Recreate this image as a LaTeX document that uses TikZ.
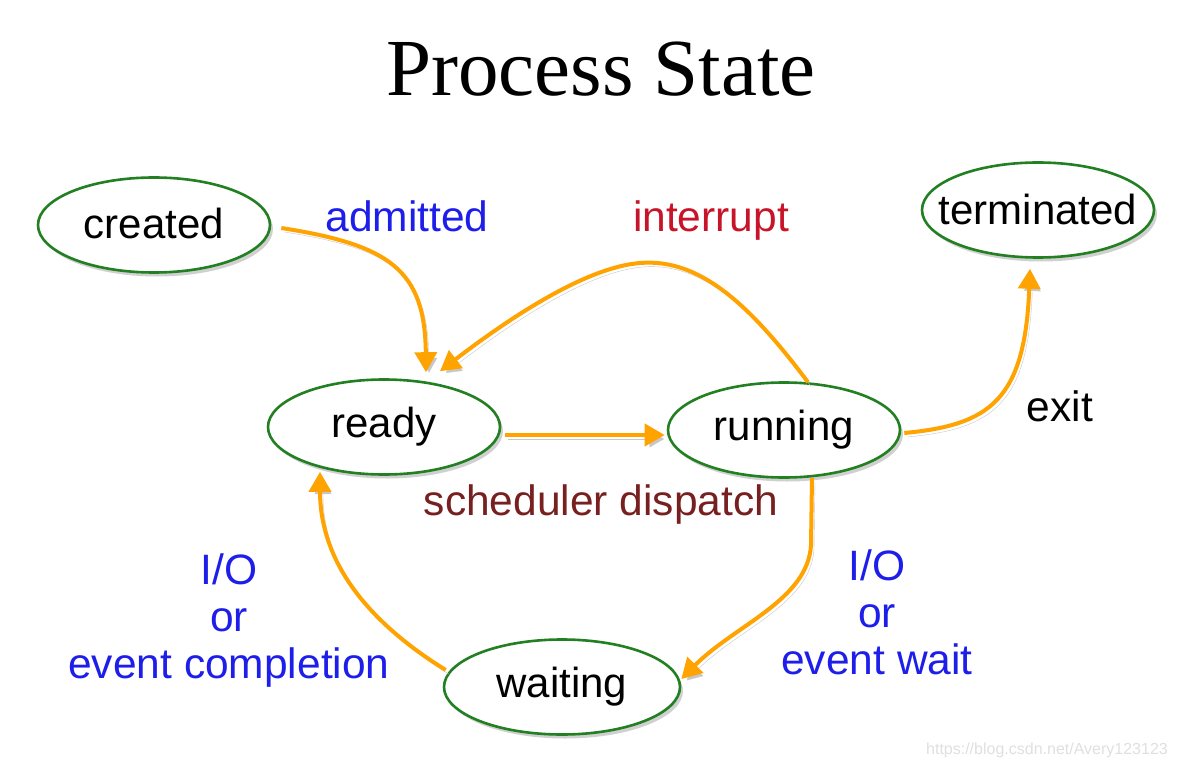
\documentclass[tikz,border=0pt]{standalone}
\usepackage{fontspec}
\setmainfont{Liberation Sans}
\newfontfamily\titlefont{Liberation Serif}
\usetikzlibrary{shapes.geometric,arrows.meta,shadows}
\definecolor{stategreen}{RGB}{34,128,34}
\definecolor{arroworange}{RGB}{255,163,0}
\definecolor{labelblue}{RGB}{30,30,235}
\definecolor{intred}{RGB}{200,20,40}
\definecolor{dispbrown}{RGB}{120,32,32}
\newcommand\zw[1]{\makebox[0pt]{#1}}
\begin{document}
\begin{tikzpicture}[x=1pt,y=-1pt,
  state/.style={ellipse, draw=stategreen, line width=2.6pt, fill=white,
    minimum width=232pt, minimum height=95pt, inner sep=0pt,
    font=\fontsize{42}{50}\selectfont,
    drop shadow={shadow xshift=3pt, shadow yshift=-4pt, fill=black!60, opacity=0.3}},
  trans/.style={draw=arroworange, line width=4pt, -{Triangle[length=20pt,width=22pt]},
    preaction={draw=black!22, transform canvas={shift={(3pt,-4pt)}}}},
  lbl/.style={font=\fontsize{42.5}{47}\selectfont, align=center, inner sep=0pt}]
\fill[white] (0,0) rectangle (1178,770);
\useasboundingbox (0,0) rectangle (1178,770);

\node[font=\titlefont\fontsize{81}{90}\selectfont, inner sep=0pt] (title) at (601,69) {Process State};

\node[state] (created) at (154,225) {\zw{\raisebox{3pt}{created}}};
\node[state] (ready) at (384,427) {\zw{ready}};
\node[state] (running) at (784,430) {\zw{running}};
\node[state] (terminated) at (1038,210) {\zw{\raisebox{2pt}{terminated}}};
\node[state, minimum width=236pt] (waiting) at (562,687) {\zw{waiting}};

% admitted
\draw[trans] ([shift={(10,3)}]created.east) .. controls (390,245) and (425,270) .. ([shift={(42,-6)}]ready.north);
% interrupt
\draw[trans] ([shift={(24,1)}]running.north) .. controls (750,305) and (700,258) .. (640,263)
  .. controls (590,267) and (520,310) .. ([shift={(56,-7)}]ready.north);
% dispatch
\draw[trans] ([shift={(4,8)}]ready.east) -- ([shift={(-2,5)}]running.west);
% exit
\draw[trans] ([shift={(3,3)}]running.east) .. controls (990,425) and (1025,400) .. ([shift={(-8,10)}]terminated.south);
% event wait
\draw[trans] ([shift={(28,-1)}]running.south) -- (811,545) .. controls (808,600) and (735,625) .. ([shift={(0,-8)}]waiting.east);
% event completion
\draw[trans] ([shift={(3,-17)}]waiting.west) .. controls (365,620) and (320,560) .. ([shift={(-64,-4)}]ready.south);

\node[lbl, text=labelblue] (ladm) at (407,216) {admitted};
\node[lbl, text=intred] (lint) at (711,221) {interrupt};
\node[lbl] (lexit) at (1060,406) {exit};
\node[lbl, text=dispbrown] (ldisp) at (601,505) {scheduler dispatch};
\node[lbl, text=labelblue] (lio1) at (229,621) {I/O\\or\\event completion};
\node[lbl, text=labelblue] (lio2) at (877,612) {I/O\\or\\event wait};

\node[text=black!12, font=\fontsize{16}{19}\selectfont, anchor=east, inner sep=0pt] (wm) at (1168,750) {https://blog.csdn.net/Avery123123};
\end{tikzpicture}
\end{document}
